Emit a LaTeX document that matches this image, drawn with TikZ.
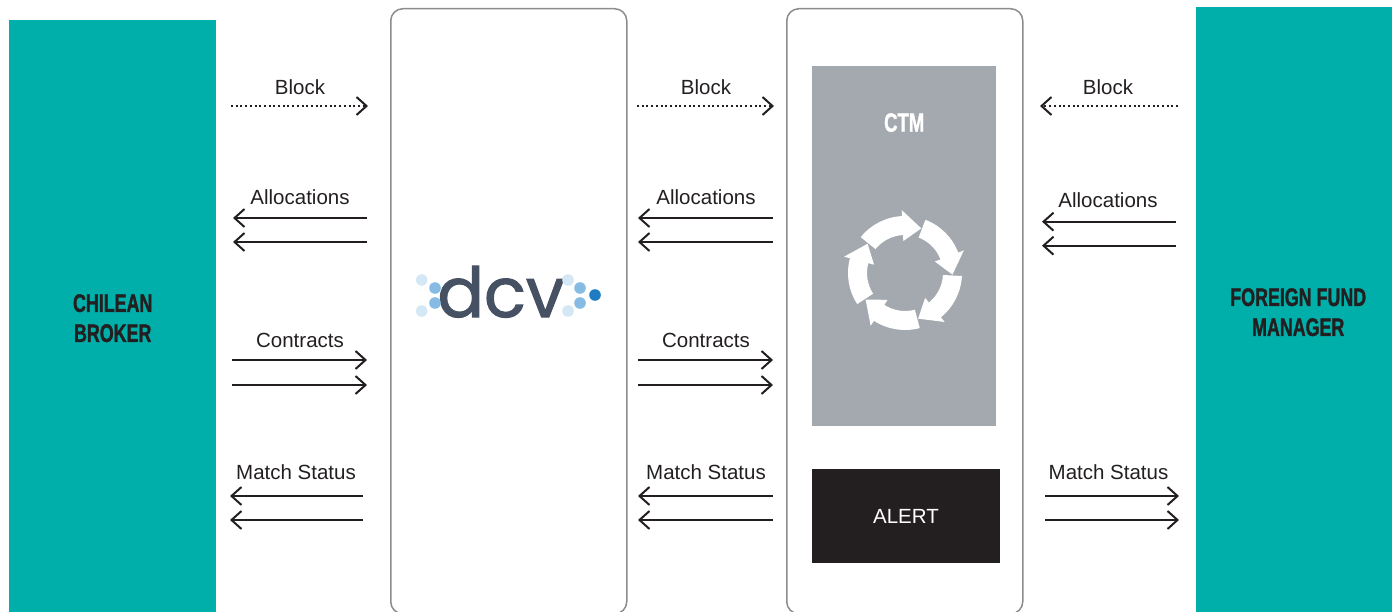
\documentclass[tikz,border=0pt]{standalone}
\usepackage{fontspec}
\setmainfont{Liberation Sans}
\newfontfamily\condfont[FakeStretch=0.7, BoldFeatures={FakeBold=1.2}]{Liberation Sans}
\newfontfamily\logofont[FakeBold=1.6]{Poppins}
\usepackage{xcolor}
\usepackage{tikz}
\usetikzlibrary{positioning,arrows.meta}
\definecolor{DCVTeal}{RGB}{0,175,170}
\definecolor{DCVInk}{RGB}{35,31,32}
\definecolor{CTMGray}{RGB}{163,169,175}
\definecolor{HubLine}{RGB}{140,140,140}
\definecolor{LogoSlate}{RGB}{70,82,99}
\definecolor{DotLight}{RGB}{211,231,245}
\definecolor{DotMid}{RGB}{134,187,227}
\definecolor{DotDark}{RGB}{31,124,193}
\tikzset{
    party/.style={rectangle, fill=DCVTeal, inner sep=0pt, align=center, text=DCVInk,
        font=\condfont\bfseries\fontsize{25.5}{30}\selectfont},
    hub/.style={rectangle, draw=HubLine, line width=1.5pt, rounded corners=12pt,
        minimum width=236, minimum height=605, inner sep=0pt},
    flowlbl/.style={inner sep=0pt, text=DCVInk, font=\fontsize{20.5}{24}\selectfont},
    flow/.style={draw=DCVInk, line width=2pt, -{Straight Barb[length=10pt,width=18pt]}},
    blockflow/.style={flow, dash pattern=on 2pt off 2.7pt}
}

\begin{document}
\begin{tikzpicture}[x=1pt, y=-1pt,
                % boxes inside the CTM column
                engine/.style={rectangle, fill=CTMGray, minimum width=184, minimum height=360, inner sep=0pt},
                alertbox/.style={rectangle, fill=DCVInk, text=white, minimum width=188, minimum height=94,
                    inner sep=0pt, font=\fontsize{20.5}{24}\selectfont},
                ctmlbl/.style={inner sep=0pt, text=white, font=\condfont\bfseries\fontsize{26.5}{30}\selectfont},
                logo/.style={inner sep=0pt, text=LogoSlate, font=\logofont\fontsize{69}{69}\selectfont}
            ]
    \useasboundingbox (0,0) rectangle (1392,612);

    % the two parties and the two hubs
    \node[party, anchor=north west, minimum width=207, minimum height=596] (broker) at (9,20) {CHILEAN\\BROKER};
    \node[party, anchor=north west, minimum width=204, minimum height=610] (fundmgr) at (1196,7) {FOREIGN FUND\\MANAGER};
    \node[hub, anchor=north west] (dcvhub) at (390,8) {};
    \node[hub, anchor=north west] (ctmhub) at (786,8) {};

    % CTM engine
    \node[engine, anchor=north west] (ctm) at (812,66) {};
    \node[ctmlbl, below=47pt of ctm.north] (ctmtitle) {CTM};
    \node[alertbox] (alert) at (906,516) {ALERT};
    \begin{scope}[shift={(905,273)}, x=1pt, y=1pt]
        \foreach \t in {70,-2,-74,-146,-218}
            \fill[white] ({\t+71}:38) arc[start angle=\t+71, end angle=\t+23, radius=38]
                -- ({\t+23}:32) -- (\t:47.5) -- ({\t+23}:63) -- ({\t+23}:57)
                arc[start angle=\t+23, end angle=\t+71, radius=57] -- cycle;
    \end{scope}

    % dcv logo
    \node[logo, anchor=base] (dcvword) at (501,317) {dcv};
    \foreach \dx/\dy/\c in {421.7/280/DotLight, 421.7/311/DotLight, 435/288/DotMid, 435/303/DotMid,
                            568/280/DotLight, 568/311/DotLight, 580/288/DotMid, 580/303/DotMid, 595/295/DotDark}
        \fill[\c] (\dx,\dy) circle[radius=5.8];

    % flow labels
    \foreach \n/\x/\y/\txt in {lblk/300/87/Block, lal/300/197.5/Allocations, lct/300/340/Contracts, lms/296/472/Match Status,
                               mblk/706/87/Block, mal/706/197.5/Allocations, mct/706/340/Contracts, mms/706/472/Match Status,
                               rblk/1108/87/Block, ral/1108/200.5/Allocations, rms/1108.5/472.5/Match Status}
        \node[flowlbl] (\n) at (\x,\y) {\txt};

    % block messages (dotted)
    \foreach \n/\y/\xa/\xb in {lblk/106/231/368, mblk/106/637/774, rblk/106/1178/1040} {
        \coordinate (\n s) at (\xa,\y);
        \coordinate (\n e) at (\xb,\y);
        \draw[blockflow] (\n s) -- (\n e);
    }

    % paired messages
    \foreach \n/\y/\xa/\xb in {lal1/218/367/233, lal2/242/367/233, lct1/360/232/367, lct2/385/232/367,
                               lms1/496/363/230, lms2/520/363/230,
                               mal1/218/773/638, mal2/242/773/638, mct1/360/638/773, mct2/385/638/773,
                               mms1/496/773/638, mms2/520/773/638,
                               ral1/221.7/1176/1042, ral2/245.7/1176/1042, rms1/496/1045/1179, rms2/520/1045/1179} {
        \coordinate (\n s) at (\xa,\y);
        \coordinate (\n e) at (\xb,\y);
        \draw[flow] (\n s) -- (\n e);
    }
\end{tikzpicture}
\end{document}
